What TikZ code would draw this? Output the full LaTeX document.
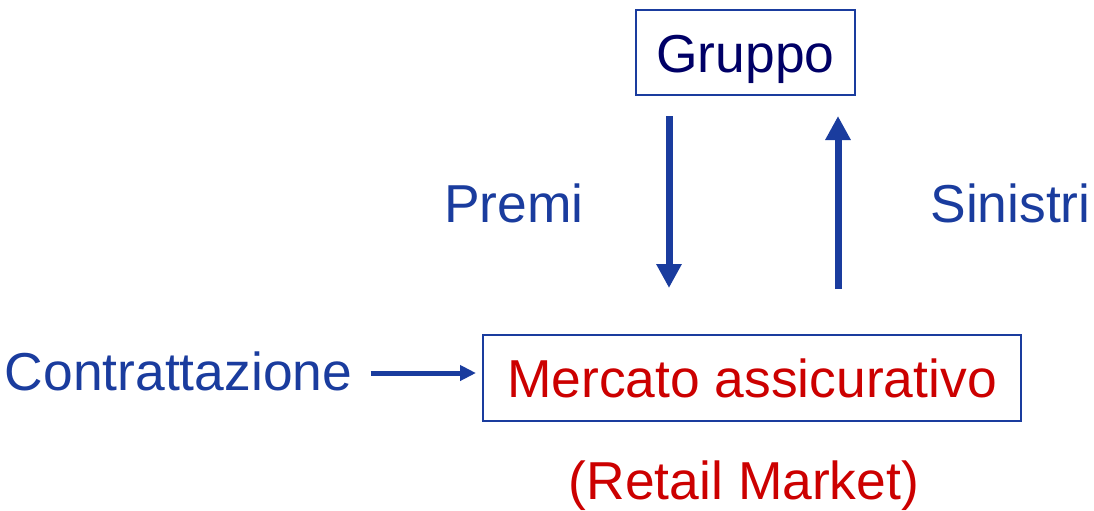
\documentclass[tikz,border=0pt]{standalone}
\usepackage{fontspec}
\setmainfont{Liberation Sans}
\usetikzlibrary{arrows.meta}
\definecolor{mblue}{RGB}{26,60,158}
\definecolor{mnavy}{RGB}{0,0,102}
\definecolor{mred}{RGB}{204,0,0}

\begin{document}
\begin{tikzpicture}[
  x=0.5pt, y=-0.5pt,
  every node/.style={font=\fontsize{26.7}{32}\selectfont, inner sep=0pt},
  lbl/.style={anchor=base, text=mblue},
  box/.style={draw=mblue, line width=1pt},
  bigarrow/.style={draw=mblue, line width=3.5pt, -{Triangle[width=12pt,length=12pt]}},
  smallarrow/.style={draw=mblue, line width=2.5pt, -{Triangle[width=7.5pt,length=8pt]}},
]

\useasboundingbox (0,0) rectangle (1094,510);

\node [box, text=mnavy, minimum width=109.5pt, text height=31pt, text depth=11.5pt] (gruppo) at (745.5,52.5) {Gruppo};
\node [box, text=mred, minimum width=269pt, text height=31pt, text depth=12pt] (mercato) at (752,378) {Mercato assicurativo};

\node [lbl] (premi) at (514,222) {Premi};
\node [lbl] (sinistri) at (1010.5,222) {Sinistri};
\node [text=mblue, text height=19pt, text depth=2pt] (contr) at (178.5,373) {Contrattazione};
\node [lbl, text=mred] (retail) at (744,499) {(Retail Market)};

\draw [bigarrow, shorten <=10pt, shorten >=23pt] ([xshift=-38.25pt]gruppo.south) -- ([xshift=-38.25pt]gruppo.south |- mercato.north);
\draw [bigarrow, shorten <=22.5pt, shorten >=10pt] ([xshift=46.25pt]gruppo.south |- mercato.north) -- ([xshift=46.25pt]gruppo.south);
\draw [smallarrow, shorten <=9pt, shorten >=3pt] (contr.east) -- (contr.east -| mercato.west);

\end{tikzpicture}
\end{document}
